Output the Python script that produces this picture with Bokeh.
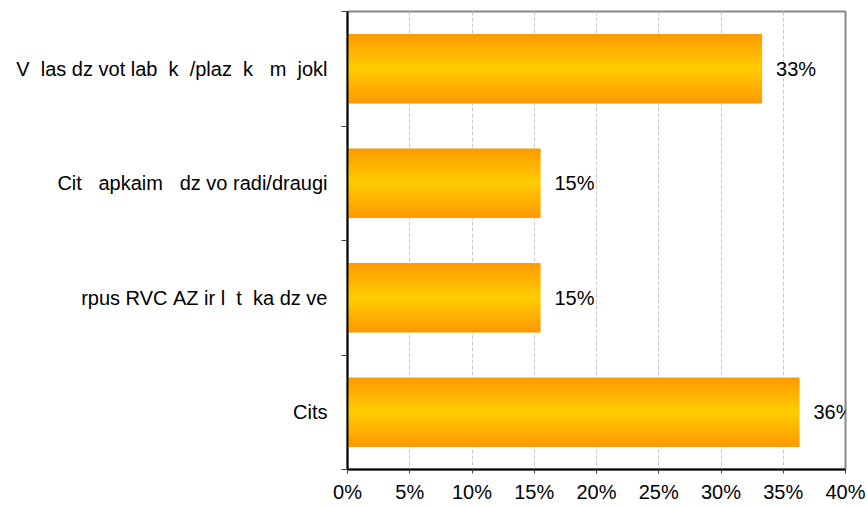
from bokeh.plotting import figure
from bokeh.models import Range1d, FixedTicker, PrintfTickFormatter, ColumnDataSource, LabelSet
from bokeh.core.properties import value
from bokeh.embed import file_html
from bokeh.resources import INLINE

# ---- data (top to bottom) ----
categories = [
    "V  las dz vot lab  k  /plaz  k   m  jokl",
    "Cit   apkaim   dz vo radi/draugi",
    "rpus RVC AZ ir l  t  ka dz ve",
    "Cits",
]
values = [33.3, 15.5, 15.5, 36.3]
value_labels = ["33%", "15%", "15%", "36%"]
x_ticks = [0, 5, 10, 15, 20, 25, 30, 35, 40]

FONT = "Liberation Sans"
FS = "20px"

p = figure(width=867, height=506, x_range=Range1d(0, 40), y_range=Range1d(4, 0),
           output_backend="svg", toolbar_location=None,
           min_border_left=347, min_border_right=22, min_border_top=11, min_border_bottom=37,
           background_fill_color="white", border_fill_color="white")

p.outline_line_color = "#868686"
p.outline_line_width = 2

# gradient bars built from horizontal strips
N = 40
bar_h = 0.6
strip = bar_h / N
orange = (255, 153, 0)
yellow = (255, 204, 0)
ys, rights, colors = [], [], []
for i, v in enumerate(values):
    c = i + 0.5
    for k in range(N):
        t = (k + 0.5) / N
        d = abs(t - 0.5) * 2
        col = tuple(int(round(yellow[j] + (orange[j] - yellow[j]) * d)) for j in range(3))
        ys.append(c - bar_h / 2 + (k + 0.5) * strip)
        rights.append(v)
        colors.append("#%02x%02x%02x" % col)
src = ColumnDataSource(dict(y=ys, right=rights, color=colors))
p.hbar(y="y", left=0, right="right", height=strip * 1.6, fill_color="color",
       line_color=None, source=src)

# value labels
lsrc = ColumnDataSource(dict(x=values, y=[i + 0.5 for i in range(len(values))], t=value_labels))
p.add_layout(LabelSet(x="x", y="y", text="t", source=lsrc, x_offset=14,
                      text_baseline="middle", text_align="left",
                      text_font=value(FONT), text_font_size=value(FS), text_color="black"))

# y axis: labels at centers, boundary ticks as minor ticks
ya = p.yaxis[0]
ya.ticker = FixedTicker(ticks=[i + 0.5 for i in range(len(categories))],
                        minor_ticks=list(range(len(categories) + 1)))
ya.major_label_overrides = {i + 0.5: c.replace(" ", "\u00a0") for i, c in enumerate(categories)}
ya.major_tick_out = 0
ya.major_tick_in = 0
ya.minor_tick_out = 6
ya.minor_tick_in = 0
ya.minor_tick_line_color = "#404040"
ya.minor_tick_line_width = 1
ya.major_label_standoff = 14
ya.major_label_text_font = FONT
ya.major_label_text_font_size = FS
ya.major_label_text_color = "black"
ya.axis_line_color = "black"
ya.axis_line_width = 2

# x axis
xa = p.xaxis[0]
xa.ticker = FixedTicker(ticks=x_ticks, minor_ticks=[])
xa.formatter = PrintfTickFormatter(format="%d%%")
xa.major_tick_out = 4
xa.major_tick_in = 0
xa.major_tick_line_color = "#404040"
xa.major_label_standoff = 7
xa.major_label_text_font = FONT
xa.major_label_text_font_size = FS
xa.major_label_text_color = "black"
xa.axis_line_color = "black"
xa.axis_line_width = 2

p.ygrid.visible = False
p.xgrid.grid_line_color = "#c8c8c8"
p.xgrid.grid_line_dash = "4 2"
p.xgrid.grid_line_width = 1

open("out.html", "w").write(file_html(p, INLINE))
